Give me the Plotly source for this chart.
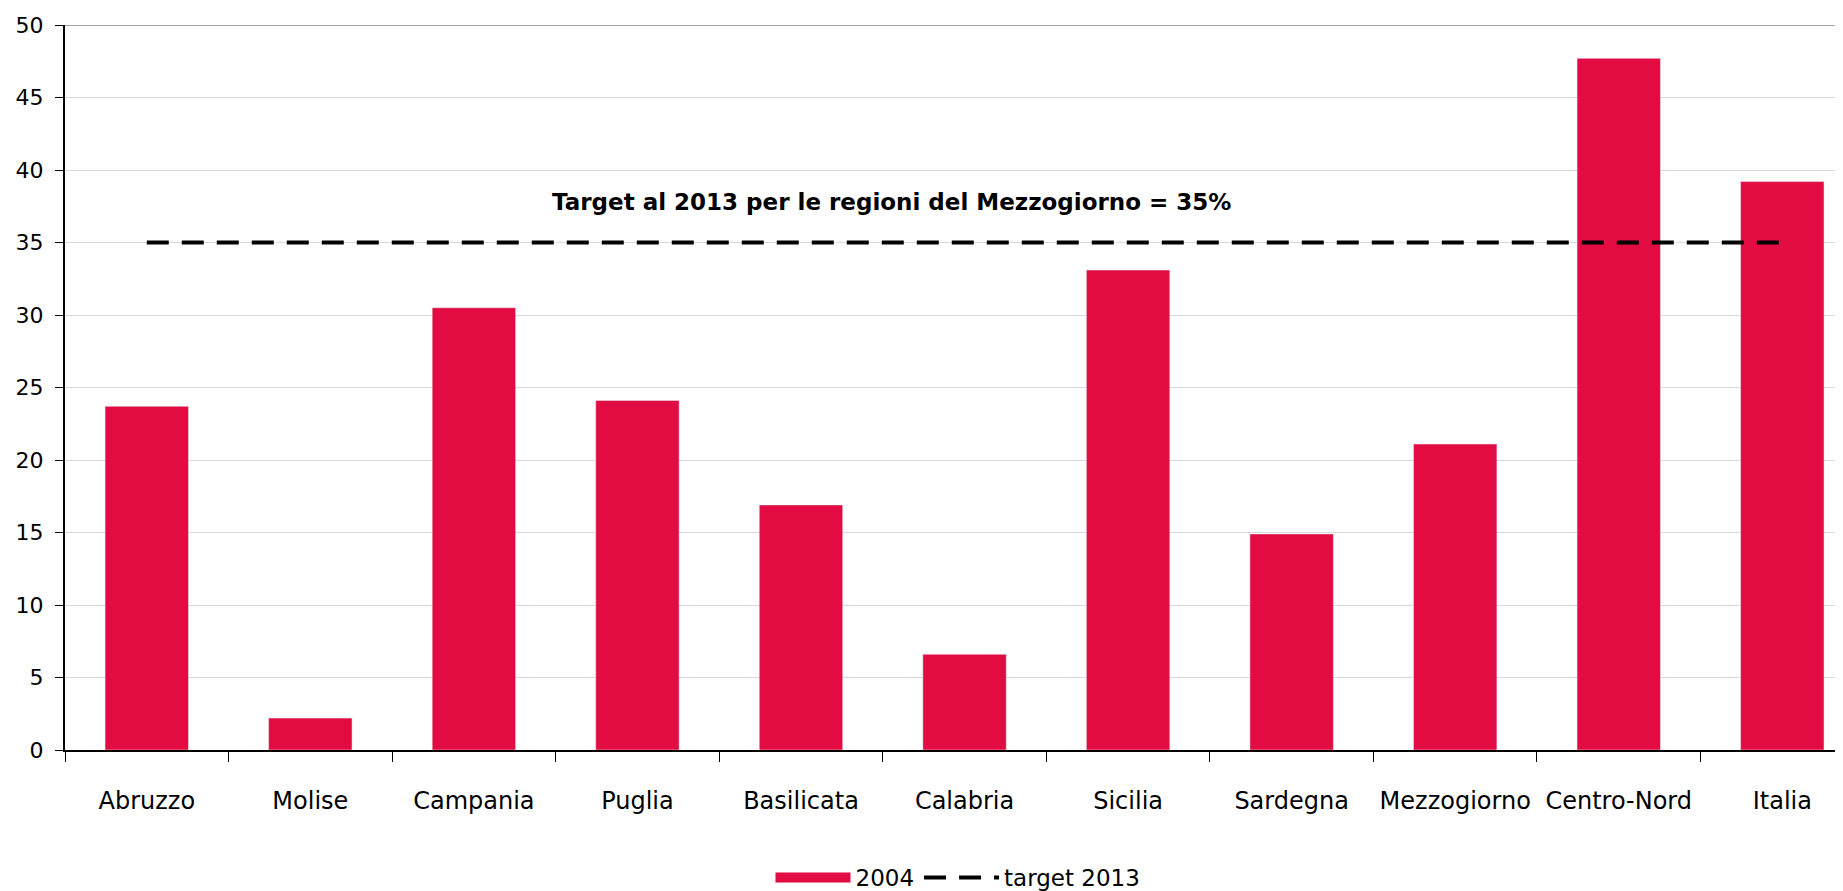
import plotly.graph_objects as go

regioni = ['Abruzzo', 'Molise', 'Campania', 'Puglia', 'Basilicata', 'Calabria',
           'Sicilia', 'Sardegna', 'Mezzogiorno', 'Centro-Nord', 'Italia']
val_2004 = [23.7, 2.2, 30.5, 24.1, 16.9, 6.6, 33.1, 14.9, 21.1, 47.7, 39.2]
target_2013 = [35] * len(regioni)

FONT = 'DejaVu Sans'
RED = '#E20B42'

fig = go.Figure()
fig.add_trace(go.Bar(x=regioni, y=val_2004, name='2004', marker_color=RED,
                     width=0.51, showlegend=False, legendgroup='a'))
# wide red swatch for the legend, like the original
fig.add_trace(go.Scatter(x=[None], y=[None], name='2004', mode='lines', legendgroup='a',
                         line=dict(color=RED, width=19)))
fig.add_trace(go.Scatter(x=regioni, y=target_2013, name='target 2013', mode='lines',
                         line=dict(color='black', width=4, dash='22px,13px')))

fig.add_annotation(text='<b>Target al 2013 per le regioni del Mezzogiorno = 35%</b>',
                   xref='paper', x=0.4625, yref='y', y=37.8, showarrow=False,
                   font=dict(family=FONT, size=23, color='black'))
fig.add_shape(type='line', xref='paper', x0=0, x1=1, yref='y', y0=50, y1=50,
              line=dict(color='#a6a6a6', width=2), layer='below')

# page body has an 8px default margin, so margins are trimmed by 8
fig.update_layout(
    width=1843, height=891,
    margin=dict(l=57, r=0, t=17, b=144),
    plot_bgcolor='white', paper_bgcolor='white',
    font=dict(family=FONT, size=22, color='black'),
    showlegend=True,
    legend=dict(orientation='h', x=0.5, xanchor='center', y=-0.176, yanchor='middle',
                font=dict(size=23), itemwidth=75, traceorder='normal'),
)
fig.update_xaxes(range=[-0.5, 10.42], showline=True, linecolor='black', linewidth=2,
                 ticks='outside', tickson='boundaries', ticklen=10, tickcolor='black',
                 showgrid=False, tickfont=dict(size=24), ticklabelstandoff=28,
                 automargin=False)
fig.update_yaxes(range=[0, 50], dtick=5, showline=True, linecolor='black', linewidth=2,
                 ticks='outside', ticklen=8, tickcolor='black',
                 showgrid=True, gridcolor='#d9d9d9', gridwidth=1, zeroline=False,
                 tickfont=dict(size=22), ticklabelstandoff=7, automargin=False)

fig.write_html('out.html')
